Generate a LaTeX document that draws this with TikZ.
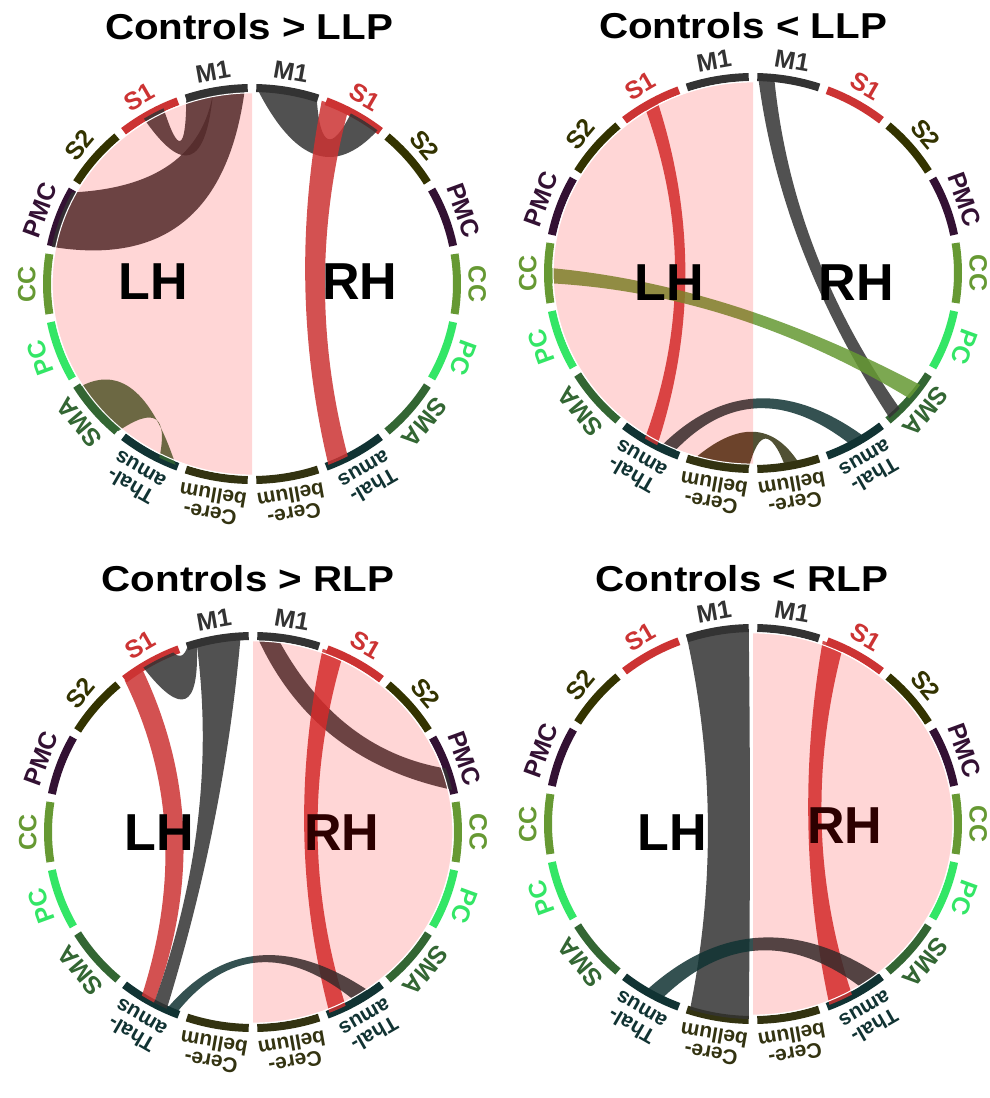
\documentclass[tikz,border=0pt]{standalone}
\usepackage{fontspec}
\setmainfont{Liberation Sans}
\usetikzlibrary{calc}
\definecolor{cM}{RGB}{51,51,51}
\definecolor{cS1}{RGB}{204,51,51}
\definecolor{cS2}{RGB}{51,51,0}
\definecolor{cPMC}{RGB}{51,17,51}
\definecolor{cCC}{RGB}{102,153,51}
\definecolor{cPC}{RGB}{51,230,102}
\definecolor{cSMA}{RGB}{51,102,51}
\definecolor{cTh}{RGB}{17,51,51}
\definecolor{cCe}{RGB}{51,51,17}
\definecolor{maroon}{RGB}{45,0,0}
\tikzset{
  panel/.style 2 args={shift={(#1,#2)}, x=205pt, y=196pt},
  lbl/.style={inner sep=0pt, anchor=south, align=center, font=\fontsize{25}{22}\selectfont\bfseries},
  lbltwo/.style={lbl, font=\fontsize{21}{19}\selectfont\bfseries},
  big/.style={inner sep=0pt, font=\fontsize{52}{56}\selectfont\bfseries},
  ttl/.style={inner sep=0pt, font=\fontsize{36}{40}\selectfont\bfseries},
  band/.style={line width=8pt},
  ribbon/.style={fill opacity=0.85},
  tint/.style={fill=red, fill opacity=0.16},
  rim/.style={white, line width=1pt}
}
\def\rr{0.995}
% ribbon: colour, a1, a2, b1, b2, mid of edge a2->b1, mid of edge b2->a1
\newcommand\rib[7]{%
  \fill[#1, ribbon] (#2:\rr) arc[start angle=#2, end angle=#3, radius=\rr]
    .. controls ($1.3333*#6-0.3333*(#4:\rr)$) and ($1.3333*#6-0.3333*(#3:\rr)$) .. (#4:\rr)
    arc[start angle=#4, end angle=#5, radius=\rr]
    .. controls ($1.3333*#7-0.3333*(#2:\rr)$) and ($1.3333*#7-0.3333*(#5:\rr)$) .. cycle;}
\newcommand\ring[1]{%
  \foreach \i/\col/\sty/\txt in {0/cM/lbl/M1,1/cS1/lbl/S1,2/cS2/lbl/S2,3/cPMC/lbl/PMC,4/cCC/lbl/CC,5/cPC/lbl/PC,6/cSMA/lbl/SMA,7/cTh/lbltwo/{Thal-\\amus},8/cCe/lbltwo/{Cere-\\bellum}}{
    \pgfmathsetmacro\aR{90-20*\i-1.2}\pgfmathsetmacro\bR{90-20*\i-18.8}
    \pgfmathsetmacro\aL{90+20*\i+1.2}\pgfmathsetmacro\bL{90+20*\i+18.8}
    \pgfmathsetmacro\mR{80-20*\i}\pgfmathsetmacro\mL{100+20*\i}
    \draw[band,\col] (\aR:1) arc[start angle=\aR, end angle=\bR, radius=1];
    \draw[band,\col] (\aL:1) arc[start angle=\aL, end angle=\bL, radius=1];
    \node[\sty, text=\col, rotate=\mR-90] (#1r\i) at (\mR:1.055) {\txt};
    \node[\sty, text=\col, rotate=\mL-90] (#1l\i) at (\mL:1.055) {\txt};
  }}
\newcommand\tintL{\fill[tint] (90:0.975) arc[start angle=90, end angle=270, radius=0.975] -- cycle;
  \draw[rim] (90:0.975) arc[start angle=90, end angle=270, radius=0.975];}
\newcommand\tintR{\fill[tint] (90:0.975) arc[start angle=90, end angle=-90, radius=0.975] -- cycle;
  \draw[rim] (90:0.975) arc[start angle=90, end angle=-90, radius=0.975];}

\begin{document}
\begin{tikzpicture}[x=1pt, y=-1pt]
\useasboundingbox (0,0) rectangle (989,1098);
\fill[white] (0,0) rectangle (989,1098);

% ---------- Panel 1: Controls > LLP
\begin{scope}[panel={252}{284}]
  \ring{a}
  \rib{cM}{92}{101}{152}{169}{(-0.40,0.61)}{(-0.33,0.32)}
  \rib{cM}{122}{115.7}{108.8}{101}{(-0.35,0.73)}{(-0.30,0.66)}
  \rib{cSMA}{212}{229}{243}{248}{(-0.47,-0.69)}{(-0.58,-0.54)}
  \rib{cM}{88.5}{71.5}{61}{52}{(0.37,0.74)}{(0.31,0.66)}
  \rib{cS1}{70}{62}{298}{292}{(0.356,0)}{(0.26,0)}
  \tintL
\end{scope}
\node[ttl] (t1) at (249,27) {\scalebox{1.12}[1]{Controls > LLP}};
\node[big] (lh1) at (153,282) {LH};
\node[big] (rh1) at (360,282) {RH};

% ---------- Panel 2: Controls < LLP
\begin{scope}[panel={753}{273}]
  \ring{b}
  \rib{cS1}{118}{122}{238}{242}{(-0.38,0)}{(-0.33,0)}
  \rib{cM}{88.5}{84}{316}{312}{(0.30,0.12)}{(0.24,0.12)}
  \rib{cCC}{178.5}{183}{320}{325}{(-0.1,-0.225)}{(-0.1,-0.165)}
  \rib{cTh}{243}{247}{298.5}{303}{(0.02,-0.69)}{(0.02,-0.64)}
  \rib{cCe}{253}{268.8}{279}{283}{(0.06,-0.845)}{(0.0,-0.81)}
  \tintL
\end{scope}
\node[ttl] (t2) at (743,26) {\scalebox{1.12}[1]{Controls < LLP}};
\node[big] (lh2) at (669,283) {LH};
\node[big] (rh2) at (856,283) {RH};

% ---------- Panel 3: Controls > RLP
\begin{scope}[panel={253}{832}]
  \ring{c}
  \rib{cS1}{123}{129}{237}{241}{(-0.43,0)}{(-0.34,0)}
  \rib{cM}{113}{122.5}{106}{108.8}{(-0.33,0.68)}{(-0.35,0.9)}
  \rib{cM}{93.5}{106}{241}{245}{(-0.27,0.05)}{(-0.19,0.05)}
  \rib{cM}{88.8}{83}{19}{12.5}{(0.473,0.536)}{(0.395,0.485)}
  \rib{cS1}{70}{64}{297}{292}{(0.315,0)}{(0.25,0)}
  \rib{cTh}{245}{248}{300}{305}{(0.03,-0.665)}{(0.03,-0.63)}
  \tintR
\end{scope}
\node[ttl] (t3) at (248,579) {\scalebox{1.12}[1]{Controls > RLP}};
\node[big] (lh3) at (159,833) {LH};
\node[big, text=maroon] (rh3) at (342,833) {RH};

% ---------- Panel 4: Controls < RLP
\begin{scope}[panel={753}{824}]
  \ring{d}
  \rib{cM}{91.2}{108.8}{252}{268.8}{(-0.22,0)}{(-0.015,0)}
  \rib{cS1}{70}{64}{299}{292}{(0.335,0)}{(0.27,0)}
  \rib{cTh}{238.5}{243.5}{302.5}{308.8}{(0.03,-0.645)}{(0.03,-0.58)}
  \tintR
\end{scope}
\node[ttl] (t4) at (742,579) {\scalebox{1.12}[1]{Controls < RLP}};
\node[big] (lh4) at (672,833) {LH};
\node[big, text=maroon] (rh4) at (845,826) {RH};
\end{tikzpicture}
\end{document}
